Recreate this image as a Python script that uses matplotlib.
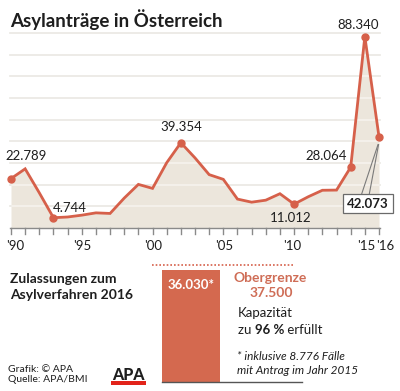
import matplotlib.pyplot as plt
from matplotlib.patches import Rectangle

plt.rcParams['font.family'] = ['Lato', 'DejaVu Sans']

# Asylanträge pro Jahr
years = list(range(1990, 2017))
antraege = [22789, 27306, 16238, 4744, 5082, 5920, 6991, 6719, 13805, 20129,
            18284, 30127, 39354, 32359, 24634, 22461, 13349, 11921, 12841, 15821,
            11012, 14416, 17413, 17503, 28064, 88340, 42073]
labelled = {1990: '22.789', 1993: '4.744', 2002: '39.354', 2010: '11.012',
            2014: '28.064', 2015: '88.340'}
tick_years = [1990, 1995, 2000, 2005, 2010, 2015, 2016]
tick_labels = ["'90", "'95", "'00", "'05", "'10", "'15", "'16"]

# Zulassungen 2016
zulassungen = 36030
obergrenze = 37500

W, H = 400, 391
RED = '#d6604a'
BAR = '#d4694f'
FILL = '#ece6dc'
GRID = '#d9d5cc'
TXT = '#1e1e1e'

fig = plt.figure(figsize=(W / 100, H / 100), dpi=100)
fig.patch.set_facecolor('white')


def fx(px):
    return px / W


def fy(py):
    return 1 - py / H


def ftext(px, py, s, **kw):
    kw.setdefault('color', TXT)
    kw.setdefault('va', 'center')
    return fig.text(fx(px), fy(py), s, **kw)


# --- line chart ---
ax = fig.add_axes([fx(11), fy(228), fx(379) - fx(11), fy(33) - fy(228)])
ax.set_xlim(1990, 2016)
ax.set_ylim(0, 90000)
for s in ax.spines.values():
    s.set_visible(False)
ax.set_xticks([])
ax.set_yticks([])

fill = ax.fill_between(years, antraege, 0, color=FILL, lw=0, zorder=1)
for g in range(10000, 100000, 10000):
    ax.plot([1989.93, 2016.07], [g, g], color=GRID, lw=1.1, zorder=0, clip_on=False)
    wl, = ax.plot([1989.93, 2016.07], [g, g], color='white', lw=1.1, alpha=0.55,
                  zorder=2, clip_on=False)
    wl.set_clip_path(fill.get_paths()[0], ax.transData)

ax.plot(years, antraege, color=RED, lw=2, zorder=3, clip_on=False,
        solid_joinstyle='miter')
mk = [y for y in years if y in labelled] + [2016]
ax.plot(mk, [antraege[years.index(y)] for y in mk], 'o', color=RED, ms=5,
        zorder=4, clip_on=False)

# baseline + ticks
ax.plot([1989.93, 2016.07], [0, 0], color='#8a8a8a', lw=1, clip_on=False, zorder=3)
for y in years:
    ax.plot([y, y], [0, -2600], color='#8a8a8a', lw=1, clip_on=False, zorder=3)

# value labels
ftext(5, 156, labelled[1990], fontsize=9.5)
ftext(53, 208, labelled[1993], fontsize=9.5)
ftext(181, 127, labelled[2002], fontsize=9.5, ha='center')
ftext(291, 218, labelled[2010], fontsize=9.5, ha='center')
ftext(326, 156, labelled[2014], fontsize=9.5, ha='center')
ftext(358, 25, labelled[2015], fontsize=9.5, ha='center')

# boxed 2016 label with leader
ax.plot([2014.75, 2015.93], [15200, 38500], color='#7a7a7a', lw=0.8, zorder=5, clip_on=False)
ax.plot([2015.3, 2015.97], [15200, 38500], color='#7a7a7a', lw=0.8, zorder=5, clip_on=False)
ftext(368, 203.5, '42.073', fontsize=9.5, ha='center', fontweight='bold',
      bbox=dict(boxstyle='square,pad=0.28', fc='white', ec='#6a6a6a', lw=0.9),
      zorder=6)

# x tick labels
tx = [15, 82, 153, 224, 292, 366, 385]
for px, lab in zip(tx, tick_labels):
    ftext(px, 246, lab, fontsize=9.5, ha='center')

# title
ftext(10, 20, 'Asylanträge in Österreich', fontsize=13.5, fontweight='bold')

# --- lower panel: bar ---
bx = fig.add_axes([fx(162), fy(382), fx(302) - fx(162), fy(265) - fy(382)])
bx.set_xlim(0, 1)
bx.set_ylim(0, obergrenze)
bx.axis('off')
bx.bar([0], [zulassungen], width=58 / 140, align='edge', color=BAR, lw=0)
bx.plot([-10 / 140, 132 / 140], [obergrenze, obergrenze], color=RED, lw=1.2,
        ls=(0, (1, 1.2)), clip_on=False)
bx.plot([0, 1], [0, 0], color='#555555', lw=1, clip_on=False)

ftext(191, 285, '36.030*', fontsize=9.5, ha='center', fontweight='bold', color='white')
ftext(270, 278, 'Obergrenze', fontsize=10, ha='center', fontweight='bold', color='#cf6d56')
ftext(271, 293, '37.500', fontsize=10, ha='center', fontweight='bold', color='#cf6d56')
ftext(238, 313, 'Kapazität', fontsize=9.5)

fig.canvas.draw()
r = fig.canvas.get_renderer()
t1 = ftext(238, 330, 'zu ', fontsize=9.5)
x = 238 + t1.get_window_extent(r).width
t2 = ftext(x, 330, '96 %', fontsize=9.5, fontweight='bold')
x += t2.get_window_extent(r).width
ftext(x, 330, ' erfüllt', fontsize=9.5)

ftext(237, 357, '* inklusive 8.776 Fälle', fontsize=8.5, style='italic')
ftext(237, 370, 'mit Antrag im Jahr 2015', fontsize=8.5, style='italic')

ftext(10, 279, 'Zulassungen zum', fontsize=10, fontweight='bold')
ftext(10, 295, 'Asylverfahren 2016', fontsize=10, fontweight='bold')

ftext(8, 369, 'Grafik: © APA', fontsize=7.5)
ftext(8, 380, 'Quelle: APA/BMI', fontsize=7.5)

# APA logo
ftext(128.5, 374.5, 'APA', fontsize=11.5, ha='center', fontweight='black')
fig.patches.append(Rectangle((fx(111), fy(385)), fx(146) - fx(111), fy(380.5) - fy(385),
                             transform=fig.transFigure, color='#e2231a', lw=0))

fig.savefig('out.png', dpi=100)
